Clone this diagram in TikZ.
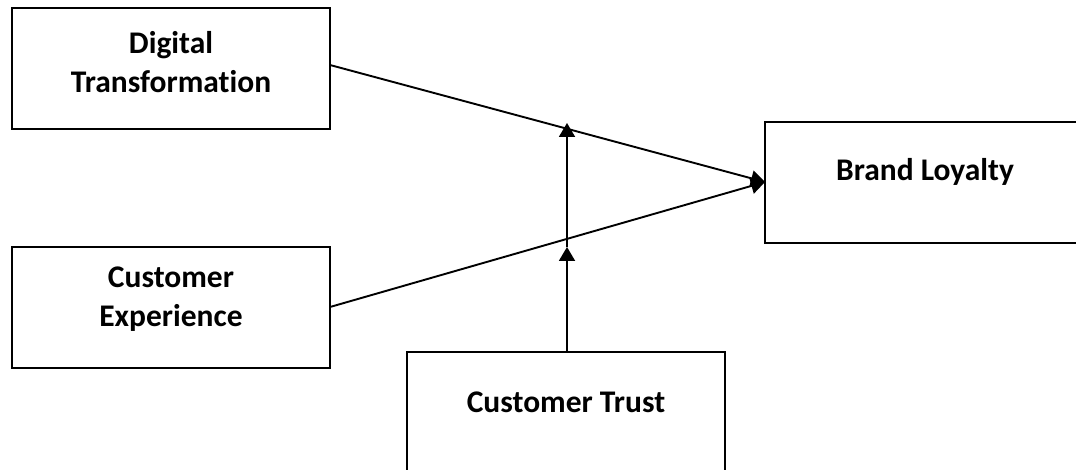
\documentclass[tikz,border=0pt]{standalone}
\usepackage{fontspec}
\setmainfont{Carlito}[RawFeature=-liga]
\usetikzlibrary{arrows.meta}
\tikzset{
  box/.style={draw=black, line width=2.2pt, rectangle, inner sep=0pt},
  boxtext/.style={align=center, font=\fontsize{31.5}{39}\selectfont\bfseries, inner sep=0pt},
  link/.style={draw=black, line width=1.9pt, -{Triangle[length=14pt,width=16pt]}},
}
\begin{document}
\begin{tikzpicture}[x=1pt, y=-1pt]
  \useasboundingbox (0,0) rectangle (1076,470);

  % the four construct boxes
  \node[box, minimum width=318pt, minimum height=121pt] (dt) at (171,68.5) {};
  \node[box, minimum width=318pt, minimum height=121pt] (ce) at (171,307.5) {};
  \node[box, minimum width=318pt, minimum height=123pt] (ct) at (566,413.5) {};
  \node[box, minimum width=320pt, minimum height=121pt] (bl) at (925,182.5) {};

  % box captions
  \node[boxtext] (dt-t) at (171,62.5) {Digital\\Transformation};
  \node[boxtext] (ce-t) at (171,299) {Customer\\Experience};
  \node[boxtext] (ct-t) at (566,402) {Customer Trust};
  \node[boxtext] (bl-t) at (925,172) {Brand Loyalty};

  % anchor points of the paths
  \coordinate (dt-out) at (330,65);
  \coordinate (ce-out) at (330,307);
  \coordinate (bl-in)  at (765,182);
  \coordinate (ct-out) at (567,352);
  \coordinate (mod-low) at (567,247);
  \coordinate (mod-high) at (567,123);

  % direct effects
  \draw[link] (dt-out) -- (bl-in);
  \draw[link] (ce-out) -- (bl-in);

  % moderating effect of trust
  \draw[link] (ct-out) -- (mod-low);
  \draw[link] (mod-low) -- (mod-high);
\end{tikzpicture}
\end{document}
